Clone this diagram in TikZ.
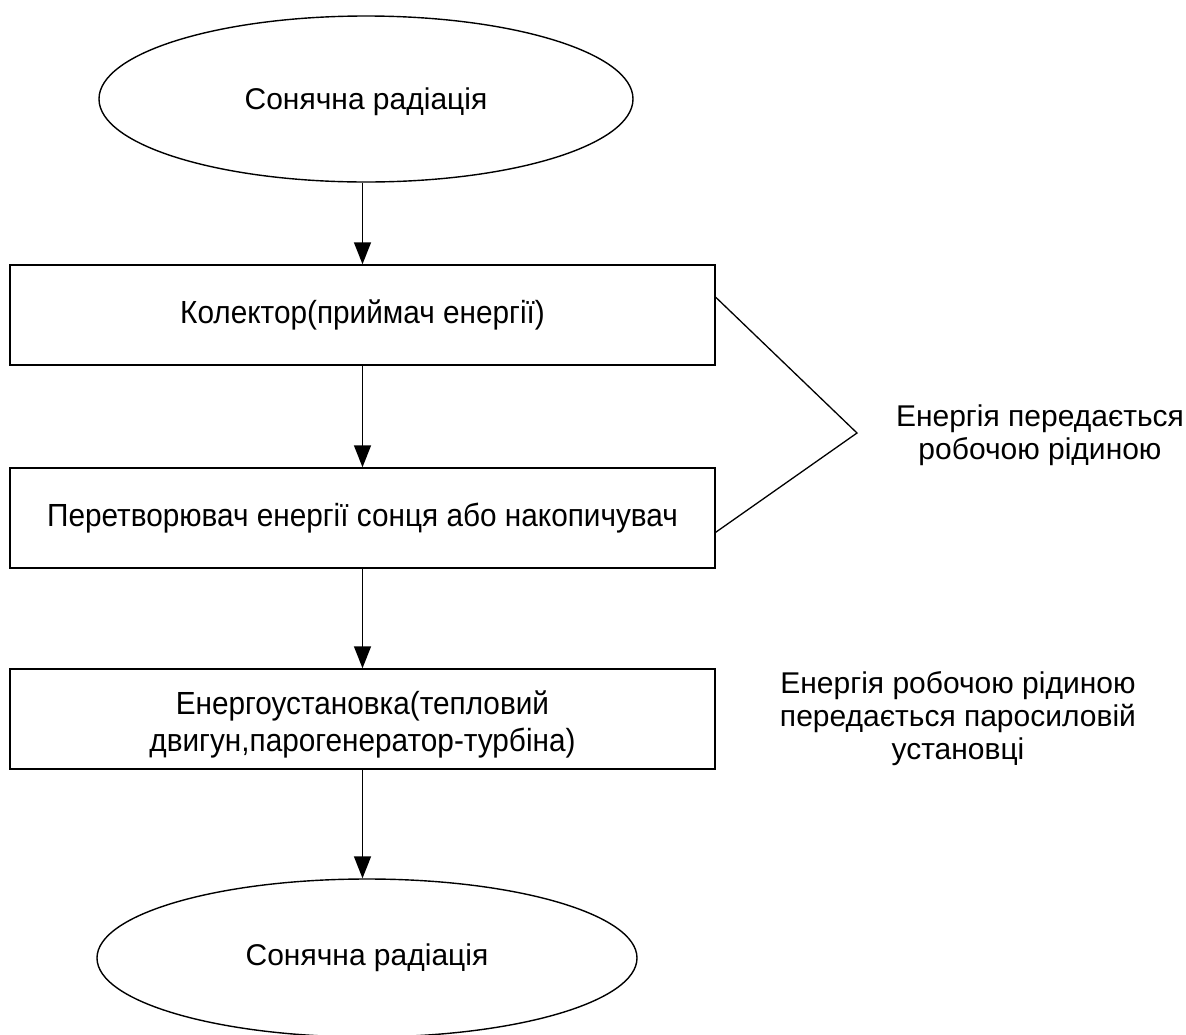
\documentclass[tikz,border=0pt]{standalone}
\usepackage{fontspec}
\setmainfont{Liberation Sans}
\newfontfamily\condensed[FakeStretch=0.93]{Liberation Sans}
\usetikzlibrary{shapes.geometric, arrows.meta, calc}
\begin{document}
\begin{tikzpicture}[x=1pt, y=-1pt,
  every node/.style={font=\fontsize{30}{33}\selectfont},
  term/.style={draw, ellipse, line width=1.4pt, inner sep=0pt},
  stepbox/.style={draw, rectangle, line width=1.5pt, minimum width=705pt,
    minimum height=100pt, align=center, inner sep=0pt,
    font=\condensed\fontsize{32}{37}\selectfont},
  flow/.style={-{Triangle[length=22pt, width=17pt]}, line width=1.5pt},
  link/.style={line width=1.3pt},
  note/.style={align=center}
]
\clip (0,0) rectangle (1186,1034);

% main chain
\node[term, minimum width=534pt, minimum height=166pt] (src) at (366,99) {\rule{0pt}{28pt}Сонячна радіація};
\node[stepbox] (coll) at (362.5,315) {Колектор(приймач енергії)};
\node[stepbox] (conv) at (362.5,518) {Перетворювач енергії сонця або накопичувач};
\node[stepbox] (plant) at (362.5,719) {\rule{0pt}{34pt}Енергоустановка(тепловий\\двигун,парогенератор-турбіна)};
\node[term, minimum width=540pt, minimum height=158pt] (sink) at (367,958) {Сонячна радіація};

\draw[flow] (src.south -| coll.north) -- (coll.north);
\draw[flow] (coll.south) -- (conv.north);
\draw[flow] (conv.south) -- (plant.north);
\draw[flow] (plant.south) -- (sink.north -| plant.south);

% brace joining the first two stages
\coordinate (apex) at (857,433);
\draw[link] ($(coll.north east)+(0,33)$) -- (apex) -- ($(conv.north east)+(0,65)$);

% side notes
\node[note] (n1) at (1040,435) {Енергія передається\\робочою рідиною};
\node[note] (n2) at (958,719) {Енергія робочою рідиною\\передається паросиловій\\установці};
\end{tikzpicture}
\end{document}
